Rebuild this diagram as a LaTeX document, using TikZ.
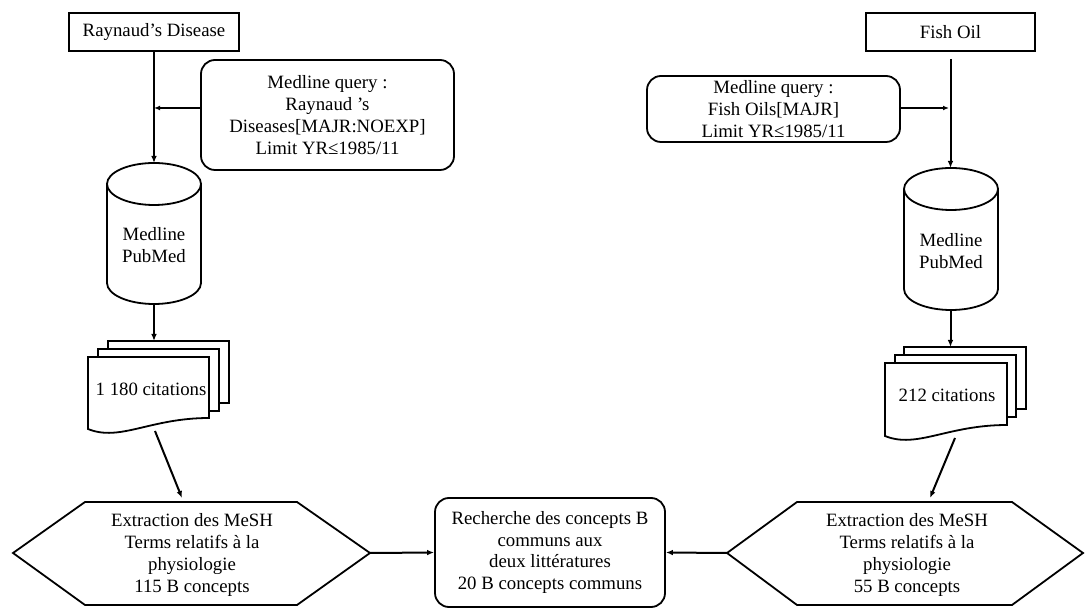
\documentclass[tikz,border=0pt]{standalone}
\usepackage{fontspec}
\setmainfont{Liberation Serif}
\usetikzlibrary{arrows.meta}
\begin{document}
\begin{tikzpicture}[x=0.5pt,y=-0.5pt,
  every node/.style={font=\fontsize{9.4}{10.9}\selectfont, align=center, inner sep=0pt},
  shapeline/.style={line width=0.9pt},
  sqbox/.style={draw, line width=0.9pt, rectangle},
  rbox/.style={draw, line width=0.9pt, rectangle, rounded corners=7pt},
  page/.style={draw, line width=0.9pt, fill=white},
  conn/.style={line width=1pt,-{Latex[length=3.5pt,width=2.8pt]}},
  thinconn/.style={line width=0.7pt,-{Latex[length=3pt,width=2.4pt]}}]
\useasboundingbox (0,0) rectangle (1086,608);

% ---------- left column ----------
\node[sqbox, minimum width=85pt, minimum height=19pt] (ray) at (154,32) {Raynaud’s Disease};
\node[rbox, minimum width=126.5pt, minimum height=55pt] (qL) at (327.5,115)
  {Medline query :\\Raynaud ’s\\Diseases[MAJR:NOEXP]\\Limit YR≤1985/11};
\coordinate (qLout) at (201,108);
\coordinate (qLin) at (154,108);

% cylinder left
\draw[shapeline] (107,184) -- (107,283) arc[start angle=180, end angle=360, x radius=23.5pt, y radius=10.5pt] -- (201,184);
\draw[shapeline] (154,184) ellipse [x radius=23.5pt, y radius=10.5pt];
\node (cylL) at (154,245) {Medline\\PubMed};
\coordinate (cylLtop) at (154,163);
\coordinate (cylLbot) at (154,304);

% documents left
\draw[page] (108,341) rectangle (229,403);
\draw[page] (98,349) rectangle (219,411);
\draw[page] (88,357) -- (209,357) -- (209,418) .. controls (150,418) and (120,442) .. (88,429) -- cycle;
\node (docL) at (151,389) {1 180 citations};
\coordinate (docLtop) at (154,341);
\coordinate (docLout) at (155,431);

% hexagon left
\draw[shapeline] (13,553) -- (85,502) -- (297,502) -- (370,553) -- (297,605) -- (85,605) -- cycle;
\node (hexL) at (192,555) {Extraction des MeSH\\Terms relatifs à la\\physiologie\\115 B concepts};
\coordinate (hexLtop) at (182,498);
\coordinate (hexLright) at (370,553);

% ---------- centre ----------
\node[rbox, minimum width=115pt, minimum height=54.5pt] (mid) at (550,552.5)
  {Recherche des concepts B\\communs aux\\deux littératures\\20 B concepts communs};

% ---------- right column ----------
\node[sqbox, minimum width=84.5pt, minimum height=19pt] (fish) at (950.5,32) {Fish Oil};
\node[rbox, minimum width=126.5pt, minimum height=33pt] (qR) at (773.5,109)
  {Medline query :\\Fish Oils[MAJR]\\Limit YR≤1985/11};
\coordinate (qRout) at (900,108);
\coordinate (qRin) at (949,108);

% cylinder right
\draw[shapeline] (904,189) -- (904,289) arc[start angle=180, end angle=360, x radius=23.5pt, y radius=10.5pt] -- (998,189);
\draw[shapeline] (951,189) ellipse [x radius=23.5pt, y radius=10.5pt];
\node (cylR) at (951,251) {Medline\\PubMed};
\coordinate (cylRtop) at (950.5,168);
\coordinate (cylRbot) at (950.5,310);

% documents right
\draw[page] (904,347) rectangle (1026,409);
\draw[page] (895,355) rectangle (1016,417);
\draw[page] (885,363) -- (1007,363) -- (1007,425) .. controls (947,425) and (917,449) .. (885,436) -- cycle;
\node (docR) at (947,395) {212 citations};
\coordinate (docRtop) at (950.5,347);
\coordinate (docRout) at (955,438);

% hexagon right
\draw[shapeline] (727,553) -- (797,502) -- (1012,502) -- (1083,553) -- (1012,605) -- (797,605) -- cycle;
\node (hexR) at (907,555) {Extraction des MeSH\\Terms relatifs à la\\physiologie\\55 B concepts};
\coordinate (hexRtop) at (930,498);
\coordinate (hexRleft) at (727,553);

% ---------- connectors ----------
\draw[conn] (ray.south) -- (cylLtop);
\draw[thinconn] (qLout) -- (qLin);
\draw[conn] (cylLbot) -- (docLtop);
\draw[conn] (docLout) -- (hexLtop);
\draw[conn] (hexLright) -- (mid.west);

\draw[conn, shorten <=3.5pt] (fish.south) -- (cylRtop);
\draw[thinconn] (qRout) -- (qRin);
\draw[conn] (cylRbot) -- (docRtop);
\draw[conn] (docRout) -- (hexRtop);
\draw[conn] (hexRleft) -- (mid.east);
\end{tikzpicture}
\end{document}
